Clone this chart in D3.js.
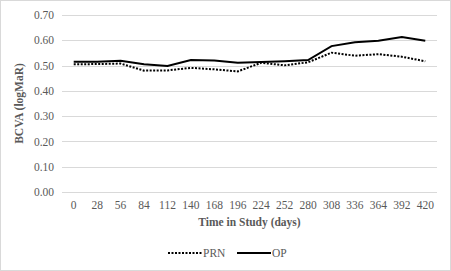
<!DOCTYPE html>
<html>
<head>
<meta charset="utf-8">
<script src="https://cdn.jsdelivr.net/npm/d3@7"></script>
<style>
  body { margin: 0; background: #fff; }
  text { font-family: "Liberation Serif", "Times New Roman", serif; fill: #595959; }
</style>
</head>
<body>
<div id="chart"></div>
<script>
// values
var days = [0, 28, 56, 84, 112, 140, 168, 196, 224, 252, 280, 308, 336, 364, 392, 420];
var prn = [0.505, 0.506, 0.508, 0.480, 0.481, 0.491, 0.485, 0.477, 0.511, 0.501, 0.513, 0.551, 0.539, 0.545, 0.535, 0.517];
var op  = [0.515, 0.515, 0.519, 0.505, 0.498, 0.522, 0.520, 0.511, 0.514, 0.517, 0.522, 0.577, 0.592, 0.598, 0.613, 0.598];
var yTicks = [0, 0.1, 0.2, 0.3, 0.4, 0.5, 0.6, 0.7];

var width = 451, height = 271;
var margin = {top: 15, right: 14, bottom: 79, left: 62};

var svg = d3.select("#chart")
    .append("svg")
    .attr("width", width)
    .attr("height", height);

// outer border of the chart area
svg.append("rect")
    .attr("x", 0.5).attr("y", 0.5)
    .attr("width", width - 1).attr("height", height - 1)
    .style("fill", "#fff")
    .style("stroke", "#d9d9d9");

var x = d3.scaleBand()
    .domain(days)
    .range([margin.left, width - margin.right]);

var y = d3.scaleLinear()
    .domain([0, 0.7])
    .range([height - margin.bottom, margin.top]);

// gridlines
svg.append("g")
    .selectAll("line")
    .data(yTicks)
    .enter().append("line")
    .attr("x1", margin.left)
    .attr("x2", width - margin.right)
    .attr("y1", function(d) { return Math.round(y(d)) + 0.5; })
    .attr("y2", function(d) { return Math.round(y(d)) + 0.5; })
    .style("stroke", "#d9d9d9")
    .style("stroke-width", 1);

// y axis labels
var yAxis = svg.append("g")
    .attr("transform", "translate(" + (margin.left - 8) + ",0)")
    .call(d3.axisLeft(y).tickValues(yTicks).tickFormat(d3.format(".2f")).tickSize(0).tickPadding(0));
yAxis.select(".domain").remove();
yAxis.selectAll("text")
    .style("font-size", "11.5px")
    .style("fill", "#595959")
    .style("font-family", "'Liberation Serif', serif");

// x axis labels
var xAxis = svg.append("g")
    .attr("transform", "translate(0," + (height - margin.bottom) + ")")
    .call(d3.axisBottom(x).tickSize(0).tickPadding(9));
xAxis.select(".domain").remove();
xAxis.selectAll("text")
    .style("font-size", "11.5px")
    .style("fill", "#595959")
    .style("font-family", "'Liberation Serif', serif");

// axis titles
svg.append("text")
    .attr("transform", "translate(23," + y(0.35) + ") rotate(-90)")
    .attr("text-anchor", "middle")
    .style("font-size", "11.5px")
    .style("font-weight", "bold")
    .text("BCVA (logMaR)");

svg.append("text")
    .attr("x", (margin.left + width - margin.right) / 2)
    .attr("y", 226)
    .attr("text-anchor", "middle")
    .style("font-size", "11.5px")
    .style("font-weight", "bold")
    .text("Time in Study (days)");

var line = d3.line()
    .x(function(d, i) { return x(days[i]) + x.bandwidth() / 2; })
    .y(function(d) { return y(d); });

svg.append("path")
    .datum(prn)
    .attr("d", line)
    .style("fill", "none")
    .style("stroke", "#000")
    .style("stroke-width", 2)
    .style("stroke-dasharray", "2,1.5");

svg.append("path")
    .datum(op)
    .attr("d", line)
    .style("fill", "none")
    .style("stroke", "#000")
    .style("stroke-width", 2);

// legend
var legend = [
    {name: "PRN", x1: 168, dash: "2,1.5"},
    {name: "OP", x1: 237, dash: null}
];
var lg = svg.append("g").selectAll("g")
    .data(legend)
    .enter().append("g");
lg.append("line")
    .attr("x1", function(d) { return d.x1; })
    .attr("x2", function(d) { return d.x1 + 34; })
    .attr("y1", 253).attr("y2", 253)
    .style("stroke", "#000")
    .style("stroke-width", 2)
    .style("stroke-dasharray", function(d) { return d.dash; });
lg.append("text")
    .attr("x", function(d) { return d.x1 + 35; })
    .attr("y", 257)
    .style("font-size", "11.5px")
    .text(function(d) { return d.name; });
</script>
</body>
</html>
